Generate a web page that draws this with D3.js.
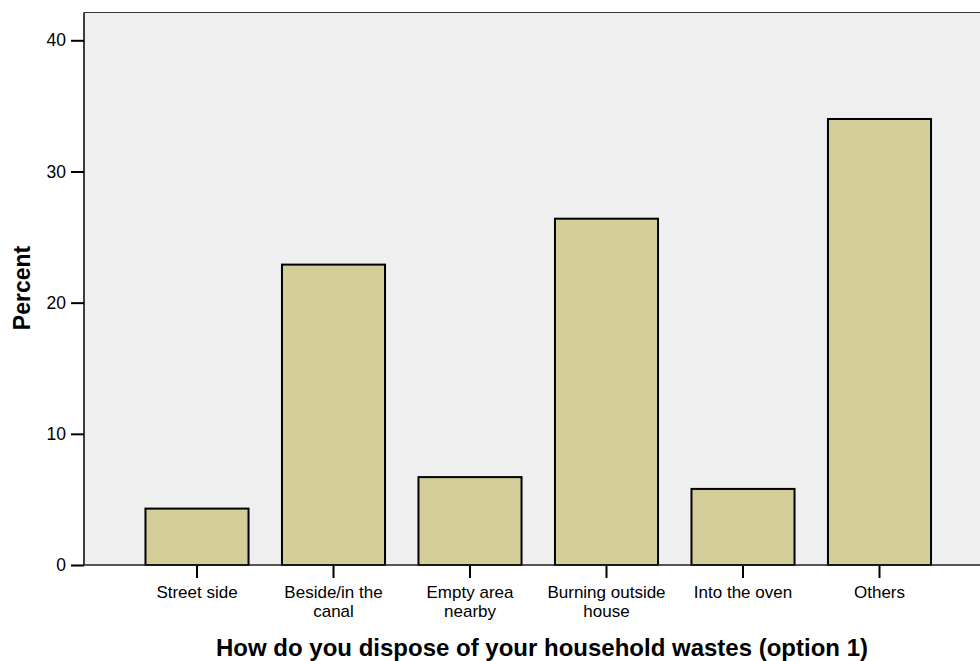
<!DOCTYPE html>
<html>
<head>
<meta charset="utf-8">
<script src="https://cdnjs.cloudflare.com/ajax/libs/d3/7.8.5/d3.min.js"></script>
<style>
html,body{margin:0;padding:0;background:#fff;}
svg{display:block;font-family:"Liberation Sans",Arial,sans-serif;}
</style>
</head>
<body>
<svg id="chart" width="980" height="661"></svg>
<script>
const categories = ["Street side", "Beside/in the canal", "Empty area nearby", "Burning outside house", "Into the oven", "Others"];
const categoryLines = [["Street side"], ["Beside/in the", "canal"], ["Empty area", "nearby"], ["Burning outside", "house"], ["Into the oven"], ["Others"]];
const percentValues = [4.3, 22.9, 6.7, 26.4, 5.8, 34.0];
const yTicks = [0, 10, 20, 30, 40];
const xTitle = "How do you dispose of your household wastes (option 1)";
const yTitle = "Percent";

const svg = d3.select("#chart");
const plot = {left: 84, top: 12.5, right: 992, bottom: 565};

const y = d3.scaleLinear().domain([0, 40]).range([565, 40.3]);
const x = d3.scaleBand().domain(categories).range([128.75, 947.75]).paddingInner(0.245).paddingOuter(0.1225);

// plot background
svg.append("rect")
  .attr("x", plot.left).attr("y", plot.top)
  .attr("width", plot.right - plot.left).attr("height", plot.bottom - plot.top)
  .attr("fill", "#efefef");
// top border
svg.append("line")
  .attr("x1", plot.left).attr("x2", plot.right)
  .attr("y1", plot.top).attr("y2", plot.top)
  .attr("stroke", "#333").attr("stroke-width", 1.2);

// bars
svg.append("g").selectAll("rect").data(categories).join("rect")
  .attr("x", d => x(d))
  .attr("width", x.bandwidth())
  .attr("y", (d, i) => y(percentValues[i]))
  .attr("height", (d, i) => y(0) - y(percentValues[i]))
  .attr("fill", "#d3ce98")
  .attr("stroke", "#000")
  .attr("stroke-width", 2);

// y axis
const yAxis = d3.axisLeft(y).tickValues(yTicks).tickSize(13).tickPadding(5).tickFormat(d3.format("d"));
const gy = svg.append("g").attr("transform", `translate(${plot.left},0)`).call(yAxis);
gy.select(".domain").remove();
gy.append("line").attr("x1", 0).attr("x2", 0).attr("y1", plot.top).attr("y2", plot.bottom)
  .attr("stroke", "#000").attr("stroke-width", 1.5);
gy.selectAll(".tick line").attr("stroke", "#000").attr("stroke-width", 2);
gy.selectAll(".tick text").attr("font-size", 17.5).attr("fill", "#000")
  .attr("font-family", "'Liberation Sans',Arial,sans-serif");

// x axis
const xAxis = d3.axisBottom(x).tickSize(13).tickFormat("");
const gx = svg.append("g").attr("transform", `translate(0,${plot.bottom})`).call(xAxis);
gx.select(".domain").remove();
gx.append("line").attr("x1", plot.left).attr("x2", plot.right).attr("y1", 0).attr("y2", 0)
  .attr("stroke", "#222").attr("stroke-width", 1.5);
gx.selectAll(".tick line").attr("stroke", "#000").attr("stroke-width", 2);
gx.selectAll(".tick").each(function(d, i) {
  const t = d3.select(this).append("text")
    .attr("text-anchor", "middle").attr("font-size", 17).attr("fill", "#000")
    .attr("font-family", "'Liberation Sans',Arial,sans-serif");
  categoryLines[i].forEach((line, j) => {
    t.append("tspan").attr("x", 0).attr("y", 33 + j * 19).text(line);
  });
});

// titles
svg.append("text")
  .attr("x", 542).attr("y", 656)
  .attr("text-anchor", "middle").attr("font-size", 24).attr("font-weight", "bold")
  .attr("fill", "#000").text(xTitle);
svg.append("text")
  .attr("transform", "translate(30,288) rotate(-90)")
  .attr("text-anchor", "middle").attr("font-size", 23).attr("font-weight", "bold")
  .attr("fill", "#000").text(yTitle);
</script>
</body>
</html>
